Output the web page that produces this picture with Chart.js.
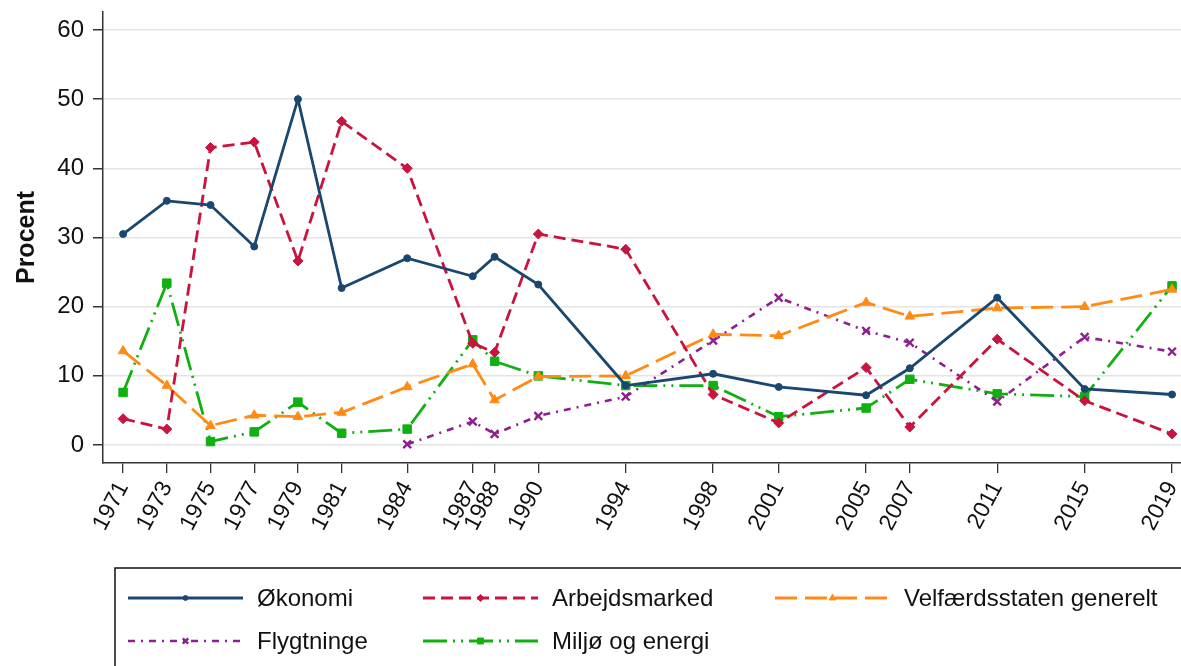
<!DOCTYPE html>
<html>
<head>
<meta charset="utf-8">
<script src="https://cdn.jsdelivr.net/npm/chart.js@4/dist/chart.umd.min.js"></script>
<style>
html,body{margin:0;padding:0;background:#fff;}
#wrap{width:1181px;height:666px;position:relative;}
</style>
</head>
<body>
<div id="wrap"><canvas id="c" width="1181" height="666"></canvas></div>
<script>
const years = [1971,1973,1975,1977,1979,1981,1984,1987,1988,1990,1994,1998,2001,2005,2007,2011,2015,2019];
const yTicks = [0,10,20,30,40,50,60];
const okonomi = [30.5,35.3,34.7,28.7,50.0,22.7,27.0,24.4,27.2,23.2,8.6,10.3,8.4,7.2,11.1,21.3,8.1,7.3];
const arbejdsmarked = [3.8,2.3,43.0,43.8,26.6,46.8,40.0,14.7,13.4,30.5,28.3,7.3,3.2,11.2,2.6,15.3,6.4,1.6];
const velfaerd = [13.6,8.6,2.8,4.3,4.1,4.7,8.4,11.7,6.5,9.9,10.0,16.0,15.8,20.6,18.6,19.8,20.0,22.5];
const flygtninge = [null,null,null,null,null,null,0.1,3.4,1.6,4.2,7.0,15.1,21.3,16.5,14.8,6.3,15.6,13.5];
const miljo = [7.6,23.4,0.5,1.9,6.2,1.7,2.3,15.2,12.1,10.0,8.6,8.6,4.1,5.35,9.5,7.4,7.0,23.0];
const seriesNames = ['Økonomi','Arbejdsmarked','Velfærdsstaten generelt','Flygtninge','Miljø og energi'];

const FONT = "'Liberation Sans', Arial, Helvetica, sans-serif";
const toPts = vals => years.map((yr,i)=>({x:yr, y:vals[i]}));

const styles = [
  {color:'#1a476f', dash:[], style:'circle', r:3.5, lw:2.8},
  {color:'#c8143f', dash:[12,6], style:'rectRot', r:5, lw:2.8},
  {color:'#ff8a14', dash:[22,8], style:'triangle', r:5.5, lw:2.8},
  {color:'#8e1f8e', dash:[7,6,2,6], style:'crossRot', r:5.5, lw:2.6},
  {color:'#11b011', dash:[24,6,2,6,2,6], style:'rect', r:6, lw:2.8}
];
const allVals = [okonomi, arbejdsmarked, velfaerd, flygtninge, miljo];

const datasets = allVals.map((v,i)=>({
  label: seriesNames[i],
  data: toPts(v),
  borderColor: styles[i].color,
  backgroundColor: styles[i].color,
  borderWidth: styles[i].lw,
  borderDash: styles[i].dash,
  pointStyle: styles[i].style,
  pointRadius: styles[i].r,
  pointBorderWidth: styles[i].style==='crossRot'?2.4:1,
  pointBorderColor: styles[i].color,
  pointBackgroundColor: styles[i].color,
  tension: 0,
  spanGaps: true,
  clip: false
}));

const legendPlugin = {
  id:'customLegend',
  afterDraw(chart){
    const ctx = chart.ctx;
    ctx.save();
    ctx.strokeStyle = '#111';
    ctx.lineWidth = 1.5;
    ctx.strokeRect(115, 568, 1181, 120);
    const cols = [128, 423, 775];
    const rows = [598, 641];
    const swW = 115;
    chart.data.datasets.forEach((ds,i)=>{
      const col = i % 3, row = Math.floor(i/3);
      const x0 = cols[col], y = rows[row];
      ctx.save();
      ctx.strokeStyle = ds.borderColor;
      ctx.lineWidth = ds.borderWidth;
      ctx.setLineDash(ds.borderDash);
      ctx.beginPath();
      ctx.moveTo(x0, y); ctx.lineTo(x0+swW, y);
      ctx.stroke();
      ctx.setLineDash([]);
      ctx.fillStyle = ds.pointBackgroundColor;
      ctx.strokeStyle = ds.pointBorderColor;
      ctx.lineWidth = ds.pointBorderWidth;
      Chart.helpers.drawPoint(ctx, {pointStyle: ds.pointStyle, radius: ds.pointRadius*0.7, rotation:0, borderWidth: ds.pointBorderWidth}, x0+swW/2, y);
      ctx.restore();
      ctx.fillStyle = '#111';
      ctx.font = "24px " + FONT;
      ctx.textBaseline = 'middle';
      ctx.textAlign = 'left';
      ctx.fillText(ds.label, x0+swW+14, y+1);
    });
    ctx.restore();
  }
};

new Chart(document.getElementById('c'), {
  type:'line',
  data:{datasets},
  options:{
    responsive:false,
    animation:false,
    devicePixelRatio:1,
    layout:{autoPadding:false, padding:{top:12,right:0,bottom:0,left:0}},
    plugins:{legend:{display:false}, tooltip:{enabled:false}},
    scales:{
      x:{
        type:'linear',
        min:1970.08, max:2019.41,
        afterBuildTicks: s => { s.ticks = years.map(v=>({value:v})); },
        afterFit: s => { s.height = 203; s.paddingLeft = 0; s.paddingRight = 0; },
        ticks:{
          autoSkip:false, maxRotation:62, minRotation:62,
          padding:4, color:'#111',
          font:{family:FONT, size:23},
          callback: v => String(v)
        },
        grid:{display:true, drawOnChartArea:false, drawTicks:true, tickLength:10, color:'#333', lineWidth:1.3},
        border:{display:true, color:'#333', width:1.5}
      },
      y:{
        min:-2.6, max:62.6,
        afterBuildTicks: s => { s.ticks = yTicks.map(v=>({value:v})); },
        afterFit: s => { s.width = 103; s.paddingTop = 0; s.paddingBottom = 0; },
        title:{display:true, text:'Procent', color:'#111', font:{family:FONT, size:25, weight:'bold'}, padding:{top:12,bottom:0}},
        ticks:{color:'#111', font:{family:FONT, size:24}, padding:9, callback: v => String(v)},
        grid:{color:'#e4e4e4', lineWidth:1.5, tickColor:'#333', tickLength:10, drawTicks:true},
        border:{display:true, color:'#333', width:1.5}
      }
    }
  },
  plugins:[legendPlugin]
});
</script>
</body>
</html>
